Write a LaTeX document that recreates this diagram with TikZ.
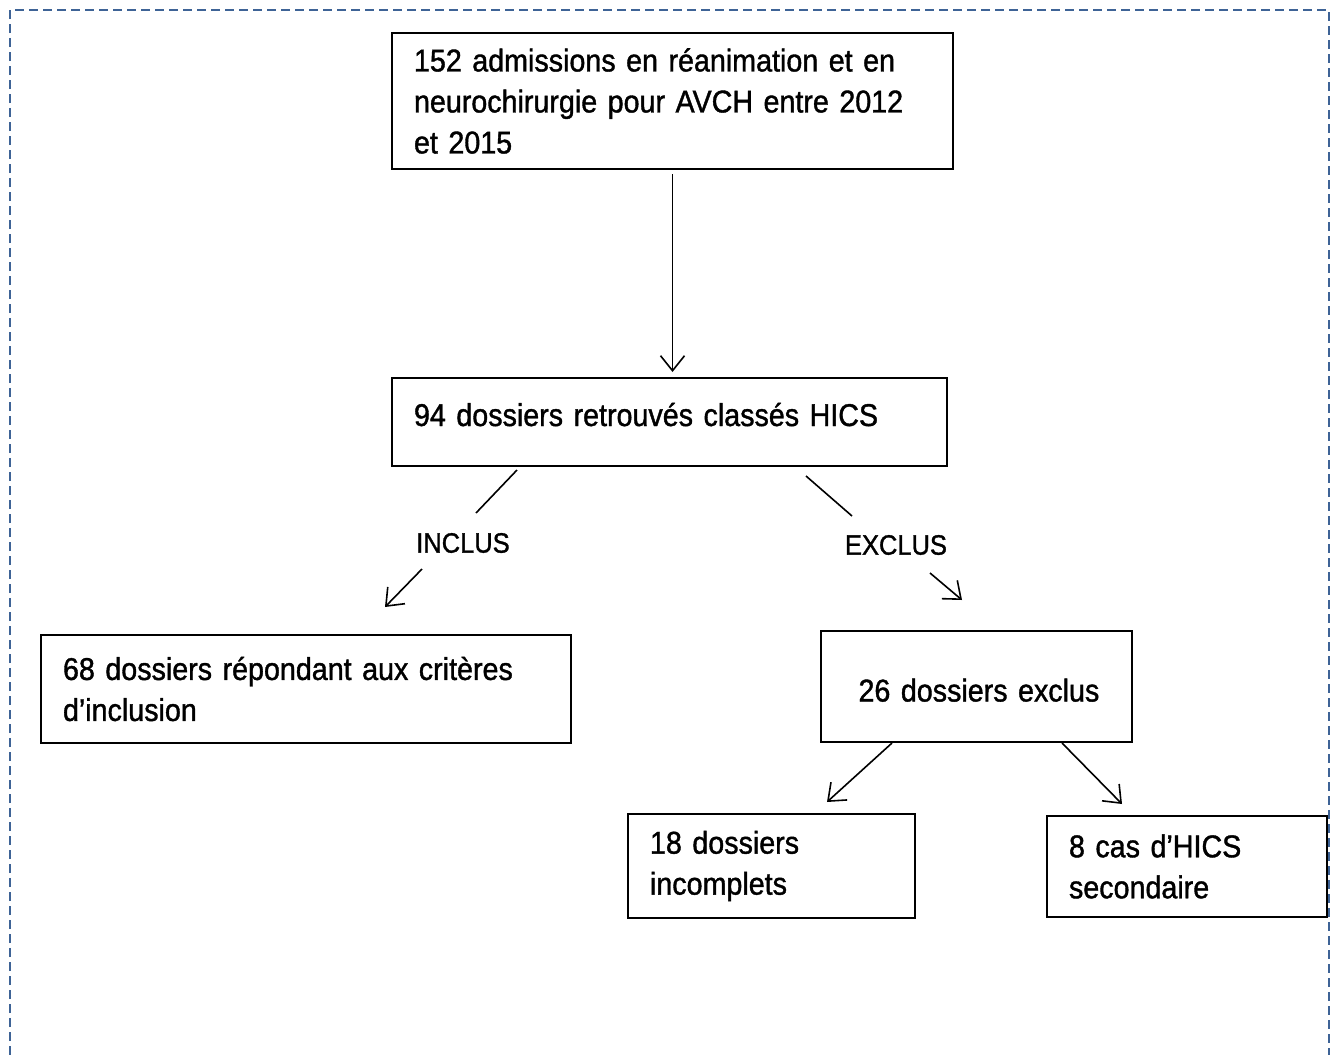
\documentclass[tikz,border=0pt]{standalone}
\usepackage{fontspec}
\setmainfont{Liberation Sans}[FakeStretch=0.91,FakeBold=1.2]
\usetikzlibrary{positioning,arrows.meta}
\definecolor{frameblue}{HTML}{3E6396}
\newcommand{\boxfont}{\fontsize{31.5}{41}\selectfont\fontdimen2\font=7.5pt\fontdimen3\font=0pt}
\newcommand{\tagfont}{\fontsize{28}{34}\selectfont}

\begin{document}
\begin{tikzpicture}[x=1pt,y=-1pt,font=\boxfont,
  stage/.style={draw,line width=2pt,inner xsep=22pt,inner ysep=0pt,align=left},
  link/.style={line width=1.6pt},
  arr/.style={line width=1.6pt,-{Straight Barb[length=15pt,width=24pt]}},
  tag/.style={font=\tagfont}]
\useasboundingbox (0,0) rectangle (1331,1055);
\draw[frameblue,line width=2pt,dash pattern=on 9pt off 5pt] (10,1055) |- (1329,10) -- (1329,1055);

% flow boxes
\node[stage,anchor=north west,text width=517pt,minimum height=136pt] (adm) at (391,32)
  {152 admissions en réanimation et en\\neurochirurgie pour AVCH entre 2012\\et 2015};
\node[stage,below=207pt of adm.south west,anchor=north west,text width=511pt,minimum height=88pt,
  text height=23pt,text depth=15pt] (hics)
  {94 dossiers retrouvés classés HICS};
\node[stage,below left=167pt and 351pt of hics.south west,anchor=north west,text width=486pt,minimum height=108pt] (incl)
  {68 dossiers répondant aux critères\\d’inclusion};
\node[stage,below left=163pt and 128pt of hics.south east,anchor=north west,text width=272pt,inner xsep=19.5pt,
  minimum height=111pt,text height=30pt,text depth=0pt] (excl)
  {\hspace*{18pt}26 dossiers exclus};
\node[stage,below left=70pt and 193pt of excl.south west,anchor=north west,text width=243pt,minimum height=104pt] (incomp)
  {18 dossiers\\incomplets};
\node[stage,below left=72pt and 87pt of excl.south east,anchor=north west,text width=236pt,minimum height=101pt] (second)
  {8 cas d’HICS\\secondaire};

% branch labels
\node[tag] (inlbl) at (463,543) {INCLUS};
\node[tag] (exlbl) at (896,545) {EXCLUS};

\coordinate (inA) at (517,470);
\coordinate (inB) at (476,513);
\coordinate (inC) at (422,569);
\coordinate (inD) at (385,607);
\coordinate (exA) at (806,476);
\coordinate (exB) at (852,516);
\coordinate (exC) at (930,573);
\coordinate (exD) at (962,600);
\coordinate (icD) at (827,802);
\coordinate (scD) at (1122,804);

\draw[arr] ([yshift=-4pt]adm.south) -- ([yshift=5pt]adm.south |- hics.north);
\draw[link] (inA) -- (inB);
\draw[arr] (inC) -- (inD);
\draw[link] (exA) -- (exB);
\draw[arr] (exC) -- (exD);
\draw[arr] ([xshift=72pt]excl.south west) -- (icD);
\draw[arr] ([xshift=242pt]excl.south west) -- (scD);
\end{tikzpicture}
\end{document}
